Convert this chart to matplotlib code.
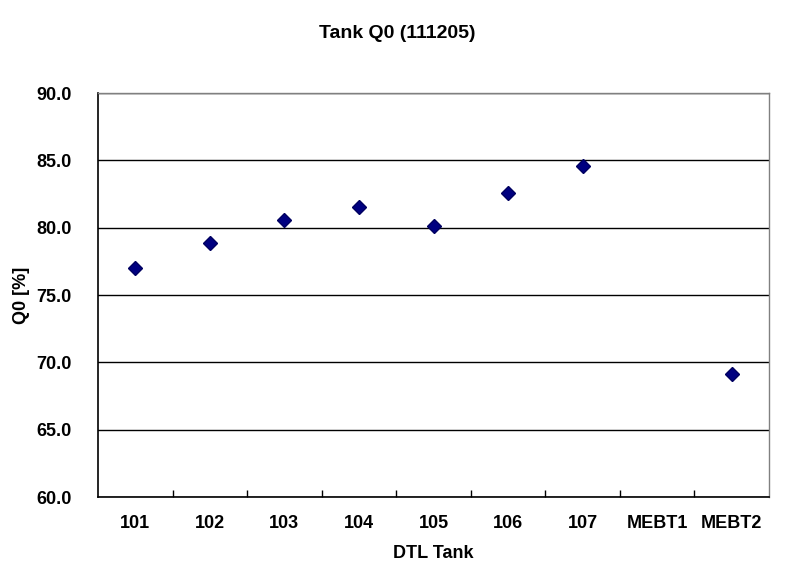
"""
Tank Q0 scatter chart (Excel-style category plot).
"""
import numpy as np
import matplotlib.pyplot as plt

# data
tanks = ['101', '102', '103', '104', '105', '106', '107', 'MEBT1', 'MEBT2']
q0 = [77.0, 78.85, 80.55, 81.5, 80.1, 82.6, 84.6, np.nan, 69.1]
y_ticks = [60.0, 65.0, 70.0, 75.0, 80.0, 85.0, 90.0]

plt.rcParams['font.family'] = ['Liberation Sans', 'DejaVu Sans']
plt.rcParams['font.weight'] = 'bold'

fig = plt.figure(figsize=(7.95, 5.78), dpi=100)
ax = fig.add_axes([98 / 795, 1 - 497 / 578, (769 - 98) / 795, (497 - 93) / 578])

x = np.arange(len(tanks)) + 0.5
ax.plot(x, q0, linestyle='none', marker='D', markersize=7.5,
        markerfacecolor='#000080', markeredgecolor='#000060', zorder=3)

ax.set_xlim(0, len(tanks))
ax.set_ylim(60, 90)

# horizontal gridlines
ax.set_yticks(y_ticks)
ax.set_yticklabels([f'{v:.1f}' for v in y_ticks], fontsize=13, fontweight='bold')
ax.yaxis.grid(True, color='black', linewidth=1.0)
ax.tick_params(axis='y', length=0, pad=19)

# category labels centered, tick marks at boundaries
ax.set_xticks(np.arange(1, len(tanks)))
ax.set_xticklabels([])
ax.set_xticks(x, minor=True)
ax.set_xticklabels(tanks, minor=True, fontsize=13, fontweight='bold')
ax.tick_params(axis='x', which='major', direction='in', length=5, width=1, color='black')
ax.tick_params(axis='x', which='minor', length=0, pad=13)

for side in ['left', 'bottom']:
    ax.spines[side].set_color('black')
    ax.spines[side].set_linewidth(1.2)
for side in ['top', 'right']:
    ax.spines[side].set_color('#808080')
    ax.spines[side].set_linewidth(1.0)

ax.set_xlabel('DTL Tank', fontsize=13, fontweight='bold', va='center')
ax.xaxis.set_label_coords((433 - 98) / 671, -(553 - 497) / 404)
ax.set_ylabel('Q0 [%]', fontsize=13, fontweight='bold', va='center')
ax.yaxis.set_label_coords(-(98 - 21) / 671, 0.5)
fig.suptitle('Tank Q0 (111205)', fontsize=14, fontweight='bold', y=1 - 33 / 578, va='center')

plt.savefig('out.png', dpi=100)
plt.close(fig)
